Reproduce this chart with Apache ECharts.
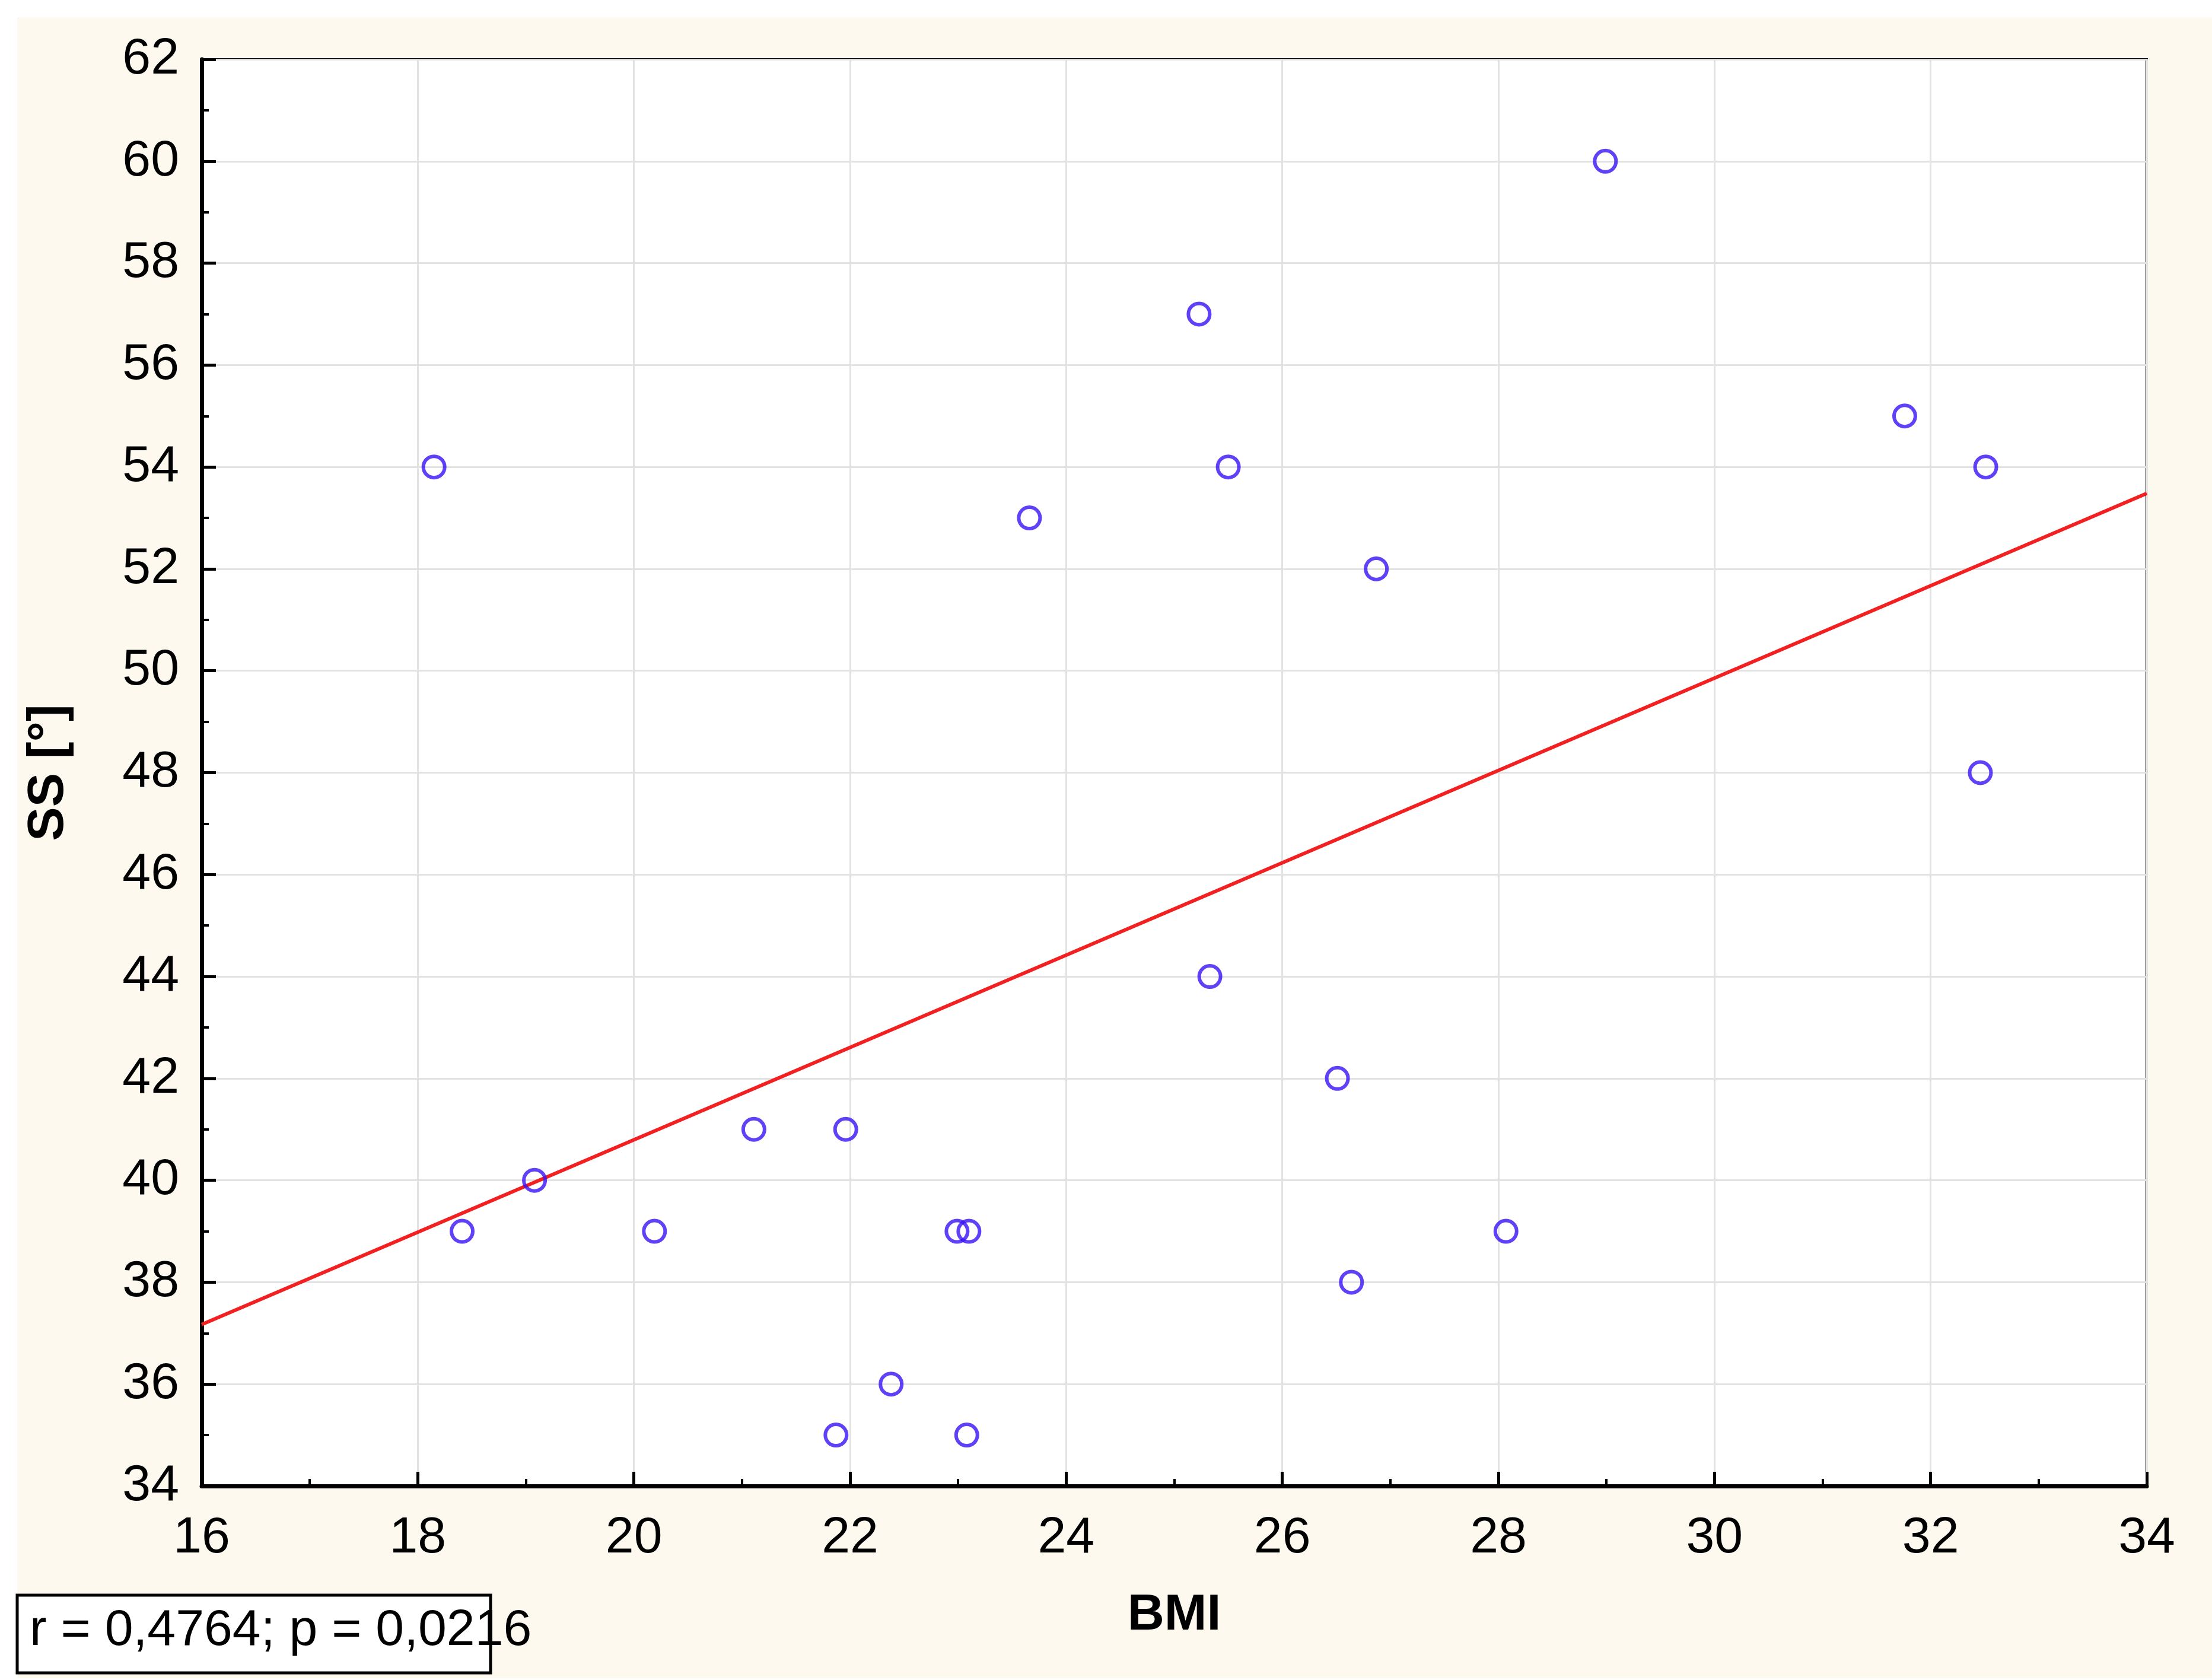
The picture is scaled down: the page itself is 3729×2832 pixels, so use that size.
<!DOCTYPE html>
<html>
<head>
<meta charset="utf-8">
<script src="https://cdn.jsdelivr.net/npm/echarts@6/dist/echarts.min.js"></script>
<style>
  html, body { margin: 0; padding: 0; background: #ffffff; }
  #chart { width: 3729px; height: 2832px; }
</style>
</head>
<body>
<div id="chart"></div>
<script>
// BMI vs SS – punkty pomiarowe
const bmiValues = [18.15, 18.41, 19.08, 20.19, 21.11, 21.96, 21.87, 22.38, 22.99, 23.10, 23.08, 23.66,
  25.23, 25.50, 25.33, 26.51, 26.64, 26.87, 28.07, 28.99, 31.76, 32.51, 32.46];
const ssValues = [54, 39, 40, 39, 41, 41, 35, 36, 39, 39, 35, 53,
  57, 54, 44, 42, 38, 52, 39, 60, 55, 54, 48];
// linia regresji (końce w granicach osi)
const fitX = [16, 34];
const fitY = [37.17, 53.48];
const statsLabel = 'r = 0,4764; p = 0,0216';

const FONT = '"Liberation Sans Narrow", "Liberation Sans", Arial, sans-serif';

const chart = echarts.init(document.getElementById('chart'));

const option = {
  backgroundColor: '#ffffff',
  animation: false,
  graphic: [
    {
      type: 'rect', z: -10, silent: true,
      shape: { x: 29, y: 29, width: 3700, height: 2800 },
      style: { fill: '#fdf9ee' }
    },
    {
      type: 'rect', z: 10,
      shape: { x: 29, y: 2689, width: 798, height: 131 },
      style: { fill: '#ffffff', stroke: '#000000', lineWidth: 5 }
    },
    {
      type: 'text', z: 11,
      left: 50, top: 2706,
      style: { text: statsLabel, font: '86px ' + FONT, fill: '#000000' }
    }
  ],
  grid: {
    left: 340, right: 110, top: 100, bottom: 327,
    show: true, backgroundColor: '#ffffff', borderColor: '#000000', borderWidth: 4
  },
  xAxis: {
    type: 'value', min: 16, max: 34, interval: 2,
    name: 'BMI', nameLocation: 'middle', nameGap: 175,
    nameTextStyle: { fontFamily: FONT, fontWeight: 'bold', fontSize: 86, color: '#000' },
    axisLine: { show: true, onZero: false, lineStyle: { color: '#000', width: 7 } },
    axisTick: { show: true, inside: true, length: 24, lineStyle: { color: '#000', width: 5 } },
    minorTick: { show: true, splitNumber: 2, length: 12, lineStyle: { color: '#000', width: 4 } },
    axisLabel: { fontFamily: FONT, fontSize: 86, color: '#000', margin: 45 },
    splitLine: { show: true, lineStyle: { color: '#e2e2e2', width: 3 } }
  },
  yAxis: {
    type: 'value', min: 34, max: 62, interval: 2,
    name: 'SS [°]', nameLocation: 'middle', nameGap: 215,
    nameTextStyle: { fontFamily: FONT, fontWeight: 'bold', fontSize: 86, color: '#000' },
    axisLine: { show: true, onZero: false, lineStyle: { color: '#000', width: 7 } },
    axisTick: { show: true, inside: true, length: 24, lineStyle: { color: '#000', width: 5 } },
    minorTick: { show: true, splitNumber: 2, length: 12, lineStyle: { color: '#000', width: 4 } },
    axisLabel: { fontFamily: FONT, fontSize: 86, color: '#000', margin: 38 },
    splitLine: { show: true, lineStyle: { color: '#e2e2e2', width: 3 } }
  },
  series: [
    {
      name: 'fit',
      type: 'line',
      data: fitX.map((x, i) => [x, fitY[i]]),
      showSymbol: false,
      lineStyle: { color: '#f22020', width: 6 },
      z: 2
    },
    {
      name: 'SS',
      type: 'scatter',
      data: bmiValues.map((x, i) => [x, ssValues[i]]),
      symbol: 'circle',
      symbolSize: 36,
      itemStyle: { color: 'rgba(0,0,0,0)', borderColor: '#3a12f5', borderWidth: 6 },
      z: 3
    }
  ]
};

chart.setOption(option);
window.addEventListener('resize', () => chart.resize());
</script>
</body>
</html>
